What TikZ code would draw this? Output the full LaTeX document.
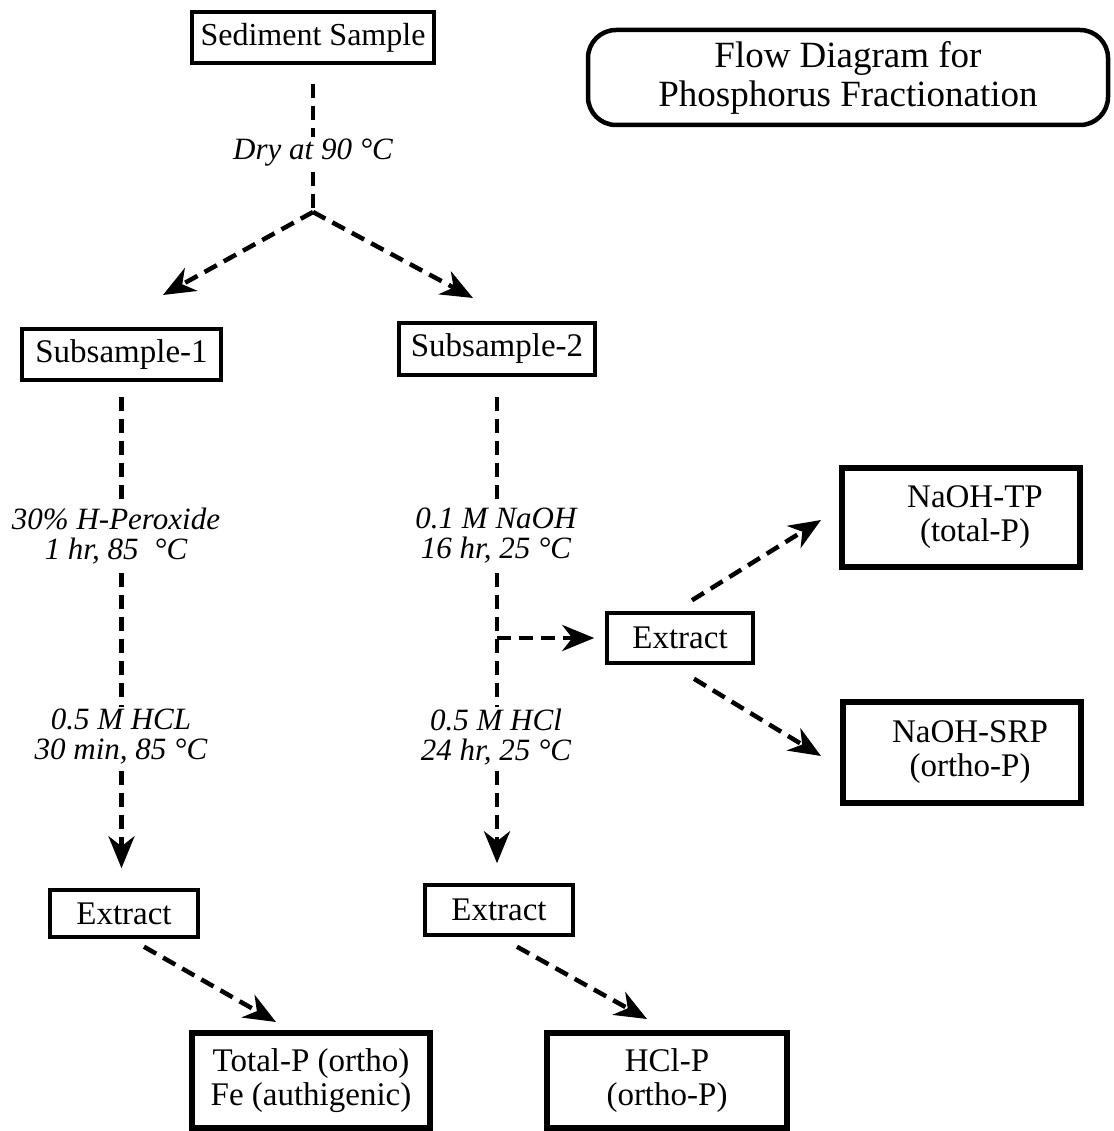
\documentclass[tikz,border=0pt]{standalone}
\usepackage{fontspec}
\setmainfont{Liberation Serif}
\usetikzlibrary{arrows.meta,calc}
\begin{document}
\begin{tikzpicture}[x=1pt,y=-1pt,
  box/.style={draw=black,line width=3.5pt,inner sep=0pt,align=center,font=\fontsize{33}{34}\selectfont},
  bigbox/.style={box,line width=6pt},
  lbl/.style={fill=white,inner sep=2pt,align=center,font=\fontsize{31}{30}\selectfont\itshape},
  dl/.style={line width=4.5pt,dash pattern=on 14pt off 8pt},
  arr/.style={-{Stealth[length=32pt,width=26pt,inset=10pt]}}]
\useasboundingbox (0,0) rectangle (1113,1131);
% nodes
\node[box,line width=4.5pt,minimum width=242pt,minimum height=51pt,font=\fontsize{32}{34}\selectfont] (sed) at (313,37.5) {Sediment Sample};
\node[draw=black,line width=4.5pt,rounded corners=28pt,minimum width=520pt,minimum height=95pt,align=center,font=\fontsize{37}{39}\selectfont] (title) at (848,77.5) {Flow Diagram for\\Phosphorus Fractionation};
\node[box,minimum width=199pt,minimum height=51pt] (s1) at (121.5,354.5) {Subsample-1};
\node[box,minimum width=196pt,minimum height=52pt] (s2) at (497,349) {Subsample-2};
\node[box,minimum width=146pt,minimum height=50pt] (ex3) at (680,638) {Extract};
\node[bigbox,minimum width=238pt,minimum height=99pt] (tp) at (961,517.5) {\hspace*{28pt}NaOH-TP\\\hspace*{28pt}(total-P)};
\node[bigbox,minimum width=238pt,minimum height=101pt] (srp) at (962,752.5) {\hspace*{16pt}NaOH-SRP\\\hspace*{16pt}(ortho-P)};
\node[box,minimum width=148pt,minimum height=47pt] (ex1) at (124,913.5) {Extract};
\node[box,minimum width=148pt,minimum height=50pt] (ex2) at (499,910) {Extract};
\node[bigbox,minimum width=238pt,minimum height=95pt] (totp) at (311,1080.5) {Total-P (ortho)\\Fe (authigenic)};
\node[bigbox,minimum width=240pt,minimum height=95pt] (hclp) at (667,1080.5) {HCl-P\\(ortho-P)};
% coordinates
\coordinate (j) at (313,212);
\coordinate (tl) at (163,295);
\coordinate (tr) at (473,298);
\coordinate (br) at (497,638);
% connectors
\draw[dl] ($(sed.south)+(0,19)$) -- (j);
\draw[dl,arr] (j) -- (tl);
\draw[dl,arr] (j) -- (tr);
\draw[dl,arr] ($(s1.south)+(0,15)$) -- ($(s1.south |- ex1.north)+(0,-20)$);
\draw[dl,arr] ($(s2.south)+(0,20)$) -- ($(s2.south |- ex2.north)+(0,-20)$);
\draw[dl,arr,shorten >=11pt] (br) -- (ex3.west);
\draw[dl,arr] ($(ex3.north)+(12,-11)$) -- ($(tp.west)+(-18,2.5)$);
\draw[dl,arr] ($(ex3.south)+(14,14)$) -- ($(srp.west)+(-19,3.5)$);
\draw[dl,arr] ($(ex1.south)+(20,8)$) -- ($(totp.north)+(-35,-8)$);
\draw[dl,arr] ($(ex2.south)+(18,10)$) -- ($(hclp.north)+(-20,-11)$);
% labels
\node[lbl] (dry) at (313,153) {Dry at 90 °C};
\node[lbl] (l1) at (116,536) {30\% H-Peroxide\\1 hr, 85\ \ °C};
\node[lbl] (l2) at (121,737) {0.5 M HCL\\30 min, 85 °C};
\node[lbl] (r1) at (496,536) {0.1 M NaOH\\16 hr, 25 °C};
\node[lbl] (r2) at (496,737) {0.5 M HCl\\24 hr, 25 °C};
\end{tikzpicture}
\end{document}
